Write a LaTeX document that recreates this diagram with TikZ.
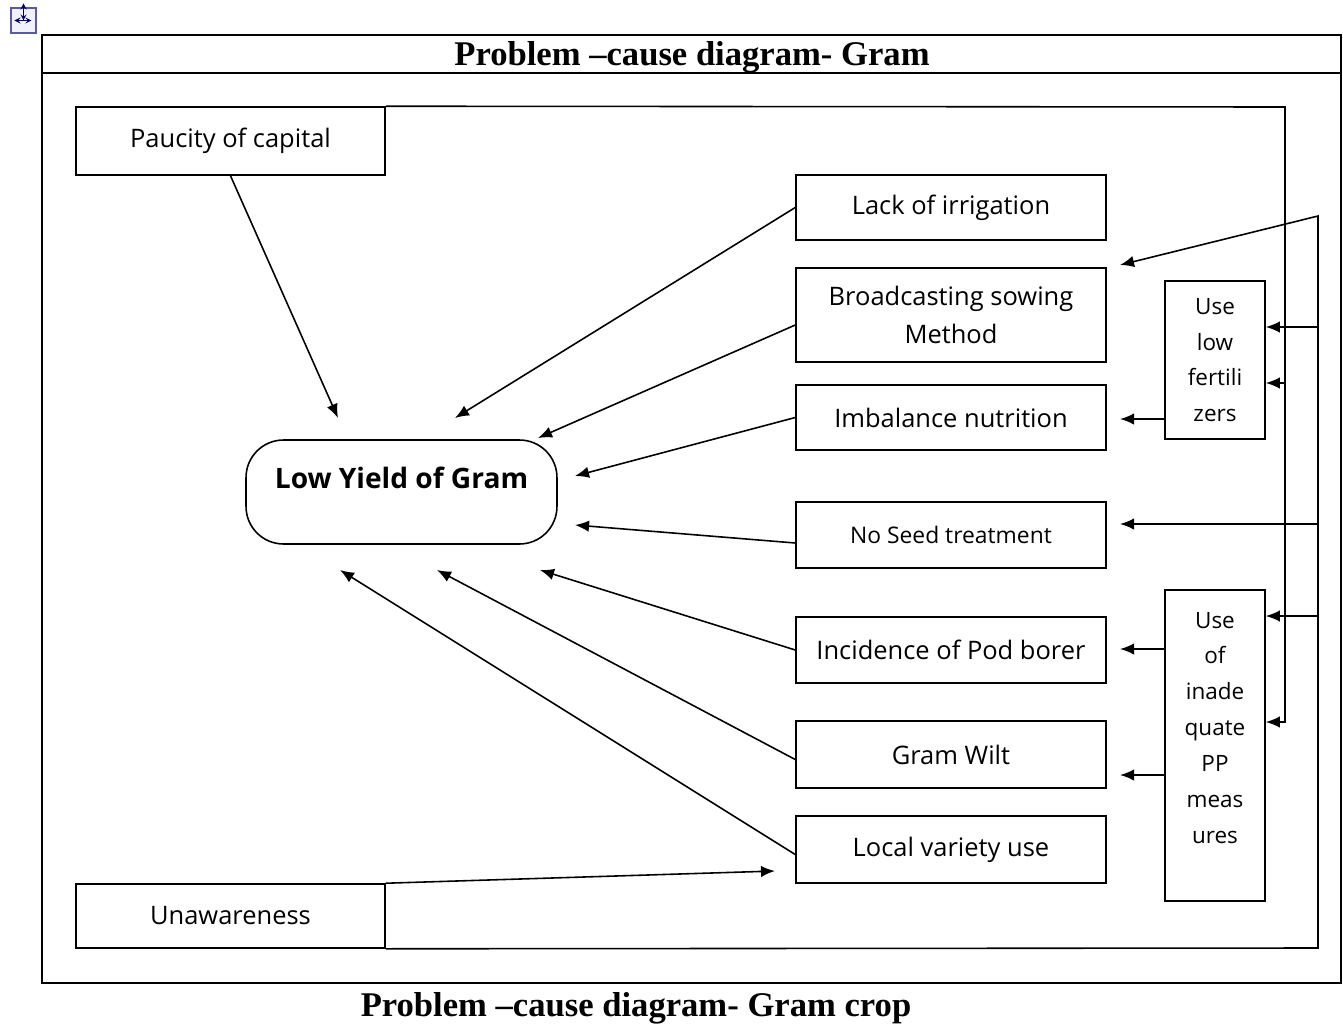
\documentclass[tikz,border=0pt]{standalone}
\usepackage{fontspec}
\setmainfont{Liberation Serif}
\newfontfamily\boxfont{Open Sans}
\usetikzlibrary{arrows,arrows.meta}

\begin{document}
\begin{tikzpicture}[x=0.02cm,y=-0.02cm,line width=0.9pt,
  cause/.style={draw, rectangle, minimum width=6.2cm, minimum height=1.3cm, inner sep=1pt,
    align=center, font=\boxfont\fontsize{14.5}{21.5}\selectfont},
  side/.style={draw, rectangle, minimum width=2cm, inner sep=1pt,
    align=center, font=\boxfont\fontsize{12.8}{20.4}\selectfont},
  arr/.style={-{Latex[length=8pt,width=6.5pt]}}]
\useasboundingbox (0,0) rectangle (1343,1025);
% frame and titles
\draw (42,35) rectangle (1341,983);
\draw (42,73) -- (1341,73);
\node (title) at (692,57) [font=\bfseries\fontsize{19.7}{22}\selectfont] {Problem --cause diagram- Gram};
\node (caption) at (636,1008) [font=\bfseries\fontsize{19.7}{22}\selectfont] {Problem --cause diagram- Gram crop};
% move handle
\node (handle) at (23.5,20.5) [draw=blue!30!gray, fill=blue!6, minimum size=0.5cm, inner sep=0pt, line width=0.6pt] {};
\draw[<->, >=stealth, line width=0.5pt, blue!40!black] (handle.north) ++(0,-4) -- ++(0,17);
\draw[<->, >=stealth, line width=0.5pt, blue!40!black] (handle.west) ++(4,0) -- ++(17,0);
% problem
\node (yield) at (401.5,492) [draw, rounded corners=0.75cm, minimum width=6.22cm, minimum height=2.08cm,
  font=\boxfont\bfseries\fontsize{16}{19}\selectfont] {\raisebox{0.28cm}[\height][\depth]{Low Yield of Gram}};
% causes
\node (pauc) at (230.5,141) [cause, minimum width=6.18cm, minimum height=1.36cm] {Paucity of capital};
\node (unaw) at (230.5,916) [cause, minimum width=6.18cm, minimum height=1.28cm] {Unawareness};
\node (irr) at (951,207.5) [cause] {Lack of irrigation};
\node (sow) at (951,315) [cause, minimum height=1.88cm] {Broadcasting sowing\\Method};
\node (nutr) at (951,417.5) [cause] {Imbalance nutrition};
\node (seed) at (951,535) [cause, minimum height=1.32cm, font=\boxfont\fontsize{13}{16}\selectfont] {No Seed treatment};
\node (pod) at (951,650) [cause, minimum height=1.32cm] {Incidence of Pod borer};
\node (wilt) at (951,754.5) [cause, minimum height=1.34cm] {Gram Wilt};
\node (local) at (951,849.5) [cause, minimum height=1.34cm] {Local variety use};
\node (fert) at (1215,360) [side, minimum height=3.16cm] {Use\\low\\fertili\\zers};
\node (pp) at (1215,745.5) [side, minimum height=6.22cm] {Use\\of\\inade\\quate\\PP\\meas\\ures\\\mbox{}};
% arrow ends
\coordinate (t1) at (338,418);
\coordinate (t2) at (455,418);
\coordinate (t3) at (538,438);
\coordinate (t4) at (575,476);
\coordinate (t5) at (575,525);
\coordinate (t6) at (540,570);
\coordinate (t7) at (437,570);
\coordinate (t8) at (340,570);
\coordinate (t9) at (775,871);
% wiring on the right
\coordinate (r1) at (1285,107);
\coordinate (r2) at (1285,722);
\coordinate (r3) at (1285,383);
\coordinate (s1) at (1318,948);
\coordinate (s2) at (1318,216);
\coordinate (s3) at (1318,327);
\coordinate (s4) at (1318,524);
\coordinate (s5) at (1318,616);
\draw
(pauc.south) edge[arr] (t1)
(irr.west) edge[arr] (t2)
([yshift=-0.2cm]sow.west) edge[arr] (t3)
(nutr.west) edge[arr] (t4)
([yshift=-0.16cm]seed.west) edge[arr] (t5)
(pod.west) edge[arr] (t6)
([yshift=-0.1cm]wilt.west) edge[arr] (t7)
([yshift=-0.1cm]local.west) edge[arr] (t8)
(unaw.north east) edge[arr] (t9);
\draw[arr] (pauc.north east) -- (r1) -- (r2) -- (pp.east |- r2);
\draw[arr] (r3) -- (fert.east |- r3);
\draw[arr] (unaw.south east) -- (s1) -- (s2) -- (1120,265);
\draw[arr] (s3) -- (fert.east |- s3);
\draw[arr] (s4) -- (1120,524);
\draw[arr] (s5) -- (pp.east |- s5);
\draw[arr] (fert.west |- 0,419) -- (1120,419);
\draw[arr] (pp.west |- 0,649) -- (1120,649);
\draw[arr] (pp.west |- 0,775) -- (1120,775);
\end{tikzpicture}
\end{document}
